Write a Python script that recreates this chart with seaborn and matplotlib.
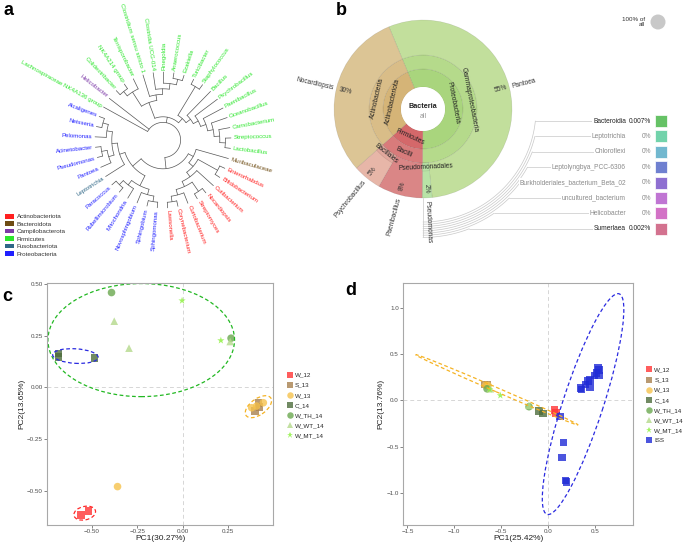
import numpy as np
import pandas as pd
import seaborn as sns
import matplotlib.pyplot as plt
from matplotlib.patches import Wedge, Ellipse, Circle, Rectangle, Patch

# ---------------- a: genus tree ----------------
leaf_names = ["Lachnospiraceae NK4A136 group", "Helicobacter", "Colidextribacter", "NK4A214 group",
              "Terrisporobacter", "Clostridium sensu stricto 1", "Clostridia UCG-014", "Finegoldia",
              "Anaerococcus", "Ezakiella", "Turicibacter", "Staphylococcus", "Bacillus",
              "Psychrobacillus", "Paenibacillus", "Oceanobacillus", "Carnobacterium", "Streptococcus",
              "Lactobacillus", "Muribaculaceae", "Enterorhabdus", "Bifidobacterium", "Cutibacterium",
              "Nocardiopsis", "Streptomyces", "Curtobacterium", "Corynebacterium", "Lawsonella",
              "Sphingomonas", "Sphingobium", "Novosphingobium", "Mitochondria", "Rubellimicrobium",
              "Paracoccus", "Leptotrichia", "Pantoea", "Pseudomonas", "Acinetobacter", "Pelomonas",
              "Neisseria", "Alcaligenes"]
leaf_phyla = ["Firmicutes", "Campilobacterota"] + ["Firmicutes"] * 17 + ["Bacteroidota"] + \
             ["Actinobacteriota"] * 8 + ["Proteobacteria"] * 6 + ["Fusobacteriota"] + ["Proteobacteria"] * 6

clostridia = ((("Colidextribacter", "NK4A214 group"), "Terrisporobacter"),
              ("Clostridium sensu stricto 1", ("Clostridia UCG-014", ("Finegoldia", ("Anaerococcus", "Ezakiella")))))
bacilli = (("Turicibacter", "Staphylococcus"),
           ("Bacillus", ("Psychrobacillus", ("Paenibacillus", ("Oceanobacillus",
            ("Carnobacterium", ("Streptococcus", "Lactobacillus")))))))
actino = ("Muribaculaceae", (("Enterorhabdus", "Bifidobacterium"),
          ("Cutibacterium", (("Nocardiopsis", "Streptomyces"), ("Curtobacterium", ("Corynebacterium", "Lawsonella"))))))
proteo = (((("Sphingomonas", "Sphingobium"), "Novosphingobium"), ("Mitochondria", ("Rubellimicrobium", "Paracoccus"))),
          ("Leptotrichia", (("Pantoea", ("Pseudomonas", "Acinetobacter")), ("Pelomonas", ("Neisseria", "Alcaligenes")))))
tree = ("Lachnospiraceae NK4A136 group", "Helicobacter", (clostridia, bacilli), (actino, proteo))

phyla = ["Actinobacteriota", "Bacteroidota", "Campilobacterota", "Firmicutes", "Fusobacteriota", "Proteobacteria"]
phylum_colours = ["#ff2020", "#6e4c14", "#7d3aa8", "#2ee62e", "#2f6787", "#2020ff"]

# ---------------- b: krona ----------------
genus = ["Pantoea", "Pseudomonas", "Paenibacillus", "Psychrobacillus", "Nocardiopsis"]
genus_share = [54.6, 1.8, 8.1, 5.2, 30.3]
genus_phylum = ["Proteobacteria", "Proteobacteria", "Firmicutes", "Firmicutes", "Actinobacteriota"]
genus_class = ["Gammaproteobacteria", "Gammaproteobacteria", "Bacilli", "Bacilli", "Actinobacteria"]
genus_order = ["Enterobacterales", "Pseudomonadales", "Paenibacillales", "Bacillales", "Streptosporangiales"]
ring_colours = {
    "Proteobacteria": "#a9d57d", "Firmicutes": "#d4686a", "Actinobacteriota": "#d5b477",
    "Gammaproteobacteria": "#b5da8b", "Bacilli": "#d87b7b", "Actinobacteria": "#d9bd88",
    "Enterobacterales": "#c2df9c", "Pseudomonadales": "#b8e3a6", "Paenibacillales": "#da8686",
    "Bacillales": "#e1a89d", "Streptosporangiales": "#dcc595",
    "Pantoea": "#c2df9c", "Pseudomonas": "#b8e3a6", "Paenibacillus": "#da8686",
    "Psychrobacillus": "#e7b6a8", "Nocardiopsis": "#dcc595"}
shown_orders = ["Pseudomonadales", "Bacillales"]
minor_taxa = ["Bacteroidia", "Leptotrichia", "Chloroflexi", "Leptolyngbya_PCC-6306",
              "Burkholderiales_bacterium_Beta_02", "uncultured_bacterium", "Helicobacter", "Sumerlaea"]
minor_share = [0.007, 0, 0, 0, 0, 0, 0, 0.002]
minor_colours = ["#66c266", "#72d3ab", "#72b8cf", "#6f80d0", "#8e6fd1", "#c075d3", "#d372c6", "#d3728f"]

# ---------------- c / d: PCA ----------------
groups = ["W_12", "S_13", "W_13", "C_14", "W_TH_14", "W_WT_14", "W_MT_14", "ISS"]
group_colours = ["#ff3535", "#a8814f", "#f6c24c", "#4d6d3c", "#6aa84f", "#b4d98b", "#8af03a", "#1f2bd6"]
group_markers = ["s", "s", "o", "s", "o", "^", "*", "s"]

c_group = ["W_12", "W_12", "S_13", "S_13", "S_13", "W_13", "W_13", "W_13", "W_13", "C_14", "C_14", "C_14",
           "W_TH_14", "W_TH_14", "W_WT_14", "W_WT_14", "W_WT_14", "W_MT_14", "W_MT_14"]
c_pc1 = [-0.558, -0.518, 0.415, 0.420, 0.396, -0.358, 0.378, 0.442, 0.405, -0.682, -0.682, -0.485,
         -0.391, 0.265, -0.376, -0.295, 0.260, -0.004, 0.209]
c_pc2 = [-0.615, -0.596, -0.074, -0.093, -0.114, -0.478, -0.098, -0.074, -0.090, 0.163, 0.147, 0.141,
         0.457, 0.237, 0.319, 0.189, 0.221, 0.418, 0.226]
# ellipses: centre x, centre y, width, height, angle, colour
c_ell_x = [-0.228, -0.589, -0.538, 0.415]
c_ell_y = [0.228, 0.151, -0.606, -0.093]
c_ell_w = [1.024, 0.25, 0.12, 0.16]
c_ell_h = [0.545, 0.07, 0.065, 0.08]
c_ell_a = [0, -3, 10, 30]
c_ell_col = ["#22b822", "#2a2ae0", "#ff2a2a", "#f5b325"]

d_group = ["W_12", "W_12", "S_13", "S_13", "W_13", "W_13", "C_14", "C_14", "W_TH_14", "W_TH_14",
           "W_WT_14", "W_WT_14", "W_MT_14", "W_MT_14"] + ["ISS"] * 16
d_pc1 = [0.071, 0.082, -0.676, -0.648, -0.665, -0.640, -0.096, -0.053, -0.651, -0.203,
         -0.616, -0.203, -0.509, -0.623,
         0.534, 0.545, 0.516, 0.498, 0.544, 0.445, 0.427, 0.445, 0.402, 0.356, 0.345,
         0.125, 0.167, 0.149, 0.185, 0.196]
d_pc2 = [-0.103, -0.139, 0.171, 0.171, 0.164, 0.160, -0.114, -0.143, 0.125, -0.068,
         0.125, -0.053, 0.053, 0.118,
         0.349, 0.330, 0.296, 0.267, 0.267, 0.225, 0.207, 0.146, 0.171, 0.118, 0.135,
         -0.175, -0.453, -0.617, -0.863, -0.881]
d_ell_x = [0.374, -0.546]
d_ell_y = [-0.040, 0.114]
d_ell_w = [2.50, 1.89]
d_ell_h = [0.43, 0.045]
d_ell_a = [72.1, -23.6]
d_ell_col = ["#2a2ae0", "#f5b325"]

sns.set_theme(style="white")
plt.rcParams["font.family"] = ["Liberation Sans", "DejaVu Sans"]

W, H = 685, 544
fig = plt.figure(figsize=(W / 100, H / 100), dpi=100)


def box(x0, y0, x1, y1):
    return [x0 / W, 1 - y1 / H, (x1 - x0) / W, (y1 - y0) / H]


def polar(r, a):
    return r * np.cos(np.radians(a)), r * np.sin(np.radians(a))


# ---- a ----
ax = fig.add_axes(box(0, 0, 330, 270))
ax.set_xlim(-163, 167)
ax.set_ylim(-130, 140)
ax.set_aspect("equal")
ax.axis("off")
colour_of = dict(zip(phyla, phylum_colours))
leaf_angle = {n: 151 - i * 360 / len(leaf_names) for i, n in enumerate(leaf_names)}
R_TIP, STEP = 68, 5.6


def height(node):
    return 0 if isinstance(node, str) else 1 + max(height(k) for k in node)


def draw(node):
    if isinstance(node, str):
        return leaf_angle[node], R_TIP
    kids = [draw(k) for k in node]
    r = R_TIP - height(node) * STEP
    angs = [a for a, _ in kids]
    for a, rk in kids:
        (x0, y0), (x1, y1) = polar(r, a), polar(rk, a)
        ax.plot([x0, x1], [y0, y1], color="#555555", lw=0.5)
    t = np.linspace(min(angs), max(angs), 80)
    ax.plot(*polar(r, t), color="#555555", lw=0.5)
    return (min(angs) + max(angs)) / 2, r


draw(tree)
for name, ph in zip(leaf_names, leaf_phyla):
    a = (leaf_angle[name] + 180) % 360 - 180
    x, y = polar(R_TIP + 2.5, a)
    if -90 <= a <= 90:
        rot, ha = a, "left"
    else:
        rot, ha = (a - 180 if a > 0 else a + 180), "right"
    ax.text(x, y, name, rotation=rot, rotation_mode="anchor", ha=ha, va="center",
            fontsize=4.4, color=colour_of[ph])
handles = [Patch(facecolor=c, edgecolor="none", label=p) for p, c in zip(phyla, phylum_colours)]
ax.legend(handles=handles, loc="lower left", bbox_to_anchor=(0.015, 0.05), frameon=False, fontsize=4.5,
          handlelength=1.4, handleheight=0.8, labelspacing=0.3, handletextpad=0.5,
          borderaxespad=0, borderpad=0, labelcolor="#333333")

# ---- b ----
ax = fig.add_axes(box(330, 0, 685, 270))
ax.set_xlim(-93, 262)
ax.set_ylim(-161, 109)
ax.set_aspect("equal")
ax.axis("off")
edges = 112.5 - np.concatenate([[0], np.cumsum(genus_share)]) * 3.6
g_start, g_end = edges[:-1], edges[1:]


def spans(names):
    out = {}
    for n, s, e in zip(names, g_start, g_end):
        out[n] = (out[n][0], e) if n in out else (s, e)
    return out


rings = [(genus_phylum, 22, 40), (genus_class, 40, 54)]
for names, r0, r1 in rings:
    for n, (s, e) in spans(names).items():
        ax.add_patch(Wedge((0, 0), r1, e, s, width=r1 - r0, facecolor=ring_colours[n],
                           edgecolor=(0, 0, 0, 0.12), lw=0.4))
for n, (s, e) in spans(genus).items():
    ax.add_patch(Wedge((0, 0), 89, e, s, width=89 - 54, facecolor=ring_colours[n],
                       edgecolor=(0, 0, 0, 0.12), lw=0.4))
for n, (s, e) in spans(genus_order).items():
    if n in shown_orders:
        ax.add_patch(Wedge((0, 0), 62, e, s, width=8, facecolor=ring_colours[n],
                           edgecolor=(0, 0, 0, 0.12), lw=0.4))
ax.add_patch(Circle((0, 0), 22, facecolor="white", edgecolor="none"))
ax.text(0, 3, "Bacteria", ha="center", va="center", fontsize=5.2, fontweight="bold", color="#222222")
ax.text(0, -7, "all", ha="center", va="center", fontsize=5, color="#999999")


def tangential(name, r, s, e):
    m = (s + e) / 2
    rot = (m - 90 + 90) % 180 - 90
    ax.text(*polar(r, m), name, rotation=rot, rotation_mode="anchor", ha="center", va="center",
            fontsize=4.8, color="#222222")


for n, (s, e) in spans(genus_phylum).items():
    tangential(n, 31, s, e)
for n, (s, e) in spans(genus_class).items():
    tangential(n, 47, s, e)
for n, (s, e) in spans(genus_order).items():
    if n in shown_orders:
        tangential(n, 58, s, e)
for n, share, s, e in zip(genus, genus_share, g_start, g_end):
    m = (s + e) / 2
    a = (m + 180) % 360 - 180
    right = -90 <= a <= 90
    rot = a if right else (a - 180 if a > 0 else a + 180)
    ax.text(*polar(80, m), f"{share:.0f}%", rotation=rot, rotation_mode="anchor", ha="center",
            va="center", fontsize=4.8, color="#333333")
    ax.text(*polar(92, m), n, rotation=rot, rotation_mode="anchor", ha="left" if right else "right",
            va="center", fontsize=4.8, color="#333333")

ax.plot([0, 0], [-89, -128.4], color="#c8c8c8", lw=0.5)
for i, (n, v, col) in enumerate(zip(minor_taxa, minor_share, minor_colours)):
    y = 109 - (121 + 15.4 * i)
    r = 113 + 2.2 * i
    th = np.degrees(np.arcsin(y / r))
    t = np.linspace(-90, th, 60)
    ax.plot(*polar(r, t), color="#c8c8c8", lw=0.5)
    ax.plot([polar(r, th)[0], 200], [y, y], color="#c8c8c8", lw=0.5)
    txt = "#222222" if v > 0 else "#8a8a8a"
    ax.text(203, y, n, ha="right", va="center", fontsize=4.8, color=txt,
            bbox=dict(facecolor="white", edgecolor="none", pad=0.6))
    ax.text(228, y, f"{v:g}%", ha="right", va="center", fontsize=4.8, color=txt)
    ax.add_patch(Rectangle((232, y - 6), 12, 12, facecolor=col, edgecolor="white", lw=0.5))
ax.text(222, 87, "100% of\nall", ha="right", va="center", fontsize=4.5, color="#333333", linespacing=0.9)
ax.add_patch(Circle((235, 87), 7.5, facecolor="#c8c8c8", edgecolor="none"))

# ---- c / d ----
palette = dict(zip(groups, group_colours))
markers = dict(zip(groups, group_markers))


def fmt(v, nd):
    return f"{v:.{nd}f}".replace("-", "\u2212")


def pca_panel(rect, grp, pc1, pc2, ell, xlim, ylim, xt, yt, nd, xlabel, ylabel, leg_x):
    ax = fig.add_axes(rect)
    df = pd.DataFrame({"group": grp, "PC1": pc1, "PC2": pc2})
    order = [g for g in groups if g in grp]
    ax.axhline(0, color="#d6d6d6", lw=0.7, ls=(0, (4, 3)), zorder=0)
    ax.axvline(0, color="#d6d6d6", lw=0.7, ls=(0, (4, 3)), zorder=0)
    sns.scatterplot(data=df, x="PC1", y="PC2", hue="group", style="group", hue_order=order,
                    style_order=order, palette=palette, markers=markers, s=30, alpha=0.8,
                    linewidth=0, ax=ax)
    for cx, cy, w, h, a, col in zip(*ell):
        ax.add_patch(Ellipse((cx, cy), w, h, angle=a, fill=False, ec=col, lw=0.9, ls=(0, (3, 2))))
    ax.set_xlim(*xlim)
    ax.set_ylim(*ylim)
    ax.set_xticks(xt, [fmt(v, nd) for v in xt])
    ax.set_yticks(yt, [fmt(v, nd) for v in yt])
    ax.tick_params(length=2, width=0.5, color="#555555", labelsize=4.5, labelcolor="#4d4d4d", pad=1,
                   bottom=True, left=True)
    for sp in ax.spines.values():
        sp.set_color("#a8a8a8")
        sp.set_linewidth(0.8)
    ax.set_xlabel(xlabel, fontsize=6, labelpad=0.5, color="#222222")
    ax.set_ylabel(ylabel, fontsize=6, labelpad=1.5, color="#222222")
    sns.move_legend(ax, "center left", bbox_to_anchor=(leg_x, 0.495), frameon=False, title=None,
                    fontsize=4.5, handletextpad=0.3, labelspacing=0.75, borderaxespad=0, borderpad=0,
                    handlelength=1.0, markerscale=0.85)
    return ax


pca_panel(box(47, 283, 273, 525), c_group, c_pc1, c_pc2,
          (c_ell_x, c_ell_y, c_ell_w, c_ell_h, c_ell_a, c_ell_col),
          (-0.745, 0.495), (-0.663, 0.503), [-0.5, -0.25, 0, 0.25], [-0.5, -0.25, 0, 0.25, 0.5], 2,
          "PC1(30.27%)", "PC2(13.65%)", 1.06)
pca_panel(box(403, 283, 633, 525), d_group, d_pc1, d_pc2,
          (d_ell_x, d_ell_y, d_ell_w, d_ell_h, d_ell_a, d_ell_col),
          (-1.548, 0.907), (-1.344, 1.266), [-1.5, -1.0, -0.5, 0, 0.5], [-1.0, -0.5, 0, 0.5, 1.0], 1,
          "PC1(25.42%)", "PC2(13.76%)", 1.057)

for lab, x, y in [("a", 4, 2), ("b", 336, 2), ("c", 2, 288), ("d", 345, 282)]:
    fig.text(x / W, 1 - y / H, lab, fontsize=13, fontweight="bold", va="top", ha="left", color="black")

fig.savefig("out.png", dpi=100)
